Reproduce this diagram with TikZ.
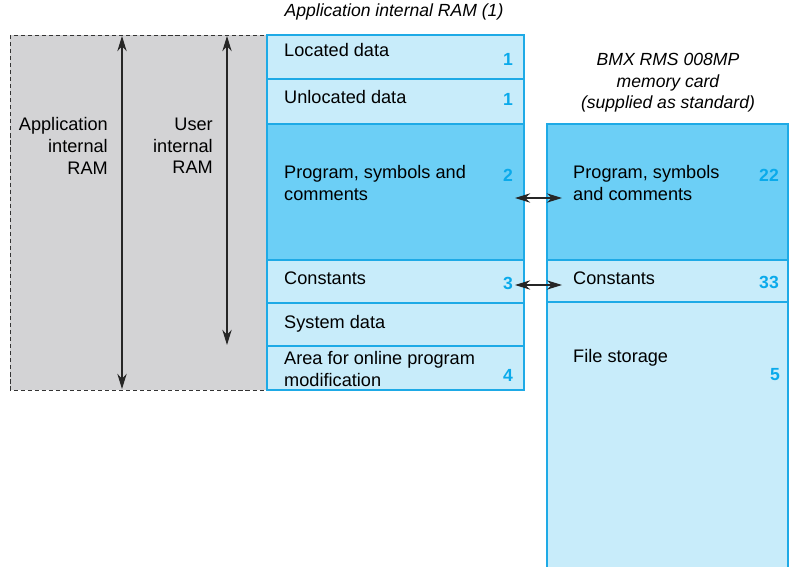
\documentclass[tikz,border=0pt]{standalone}
\usepackage{fontspec}
\setmainfont{Liberation Sans}
\usetikzlibrary{positioning,arrows.meta}

\definecolor{paleblue}{RGB}{200,236,250}
\definecolor{midblue}{RGB}{108,207,246}
\definecolor{edgeblue}{RGB}{30,170,230}
\definecolor{numblue}{RGB}{10,170,235}
\definecolor{ramgray}{RGB}{211,211,213}

\begin{document}
\begin{tikzpicture}[x=0.03cm,y=-0.03cm,font=\fontsize{15.5}{18.5}\selectfont,
    cell/.style={rectangle,draw=edgeblue,line width=0.9pt,fill=paleblue,inner sep=0pt,outer sep=0pt,minimum width=7.71cm},
    wide/.style={cell,minimum width=7.23cm},
    deep/.style={fill=midblue},
    txt/.style={anchor=west,align=left,inner sep=0pt},
    num/.style={inner sep=0pt,text=numblue,font=\fontsize{15}{18.5}\selectfont\bfseries},
    ttl/.style={inner sep=0pt,align=center,font=\fontsize{15}{18.5}\selectfont\itshape},
    span/.style={line width=1pt,draw=black!85,{Stealth[length=13pt,width=8pt]}-{Stealth[length=13pt,width=8pt]}}]
    \useasboundingbox (0,0) rectangle (794,566);
    % application RAM area
    \draw[dash pattern=on 3.5pt off 2.5pt,fill=ramgray,line width=0.8pt,draw=black!80] (10,35) rectangle (267,390);
    % internal RAM column
    \node[cell] (located) [minimum height=1.32cm] at (395.5,57) {};
    \node[cell] (unlocated) [minimum height=1.35cm, below=0pt of located] {};
    \node[cell,deep] (program) [minimum height=4.08cm, below=0pt of unlocated] {};
    \node[cell] (constants) [minimum height=1.29cm, below=0pt of program] {};
    \node[cell] (sysdata) [minimum height=1.29cm, below=0pt of constants] {};
    \node[cell] (online) [minimum height=1.32cm, below=0pt of sysdata] {};
    % memory card column
    \node[wide,deep] (cardprog) [minimum height=4.08cm] at (667.5,192) {};
    \node[wide] (cardconst) [minimum height=1.26cm, below=0pt of cardprog] {};
    \node[wide] (files) [minimum height=8.4cm, below=0pt of cardconst] {};
    % titles
    \node[ttl] (ramtitle) at (394,12) {Application internal RAM (1)};
    \node[ttl] (cardtitle) at (668,83) {BMX RMS 008MP\\memory card\\(supplied as standard)};
    \node[txt,anchor=east,align=right] (applabel) at (108,146) {Application\\internal\\RAM};
    \node[txt,anchor=east,align=right] (userlabel) at (213,146) {User\\internal\\RAM};
    % texts
    \node[txt] (tlocated) at (284,50) {Located data};
    \node[txt] (tunlocated) at (284,97) {Unlocated data};
    \node[txt] (tprogram) at (284,183) {Program, symbols and\\comments};
    \node[txt] (tconstants) at (284,278) {Constants};
    \node[txt] (tsysdata) at (284,324) {System data};
    \node[txt] (tonline) at (284,369) {Area for online program\\modification};
    \node[txt] (tcardprog) at (573,183) {Program, symbols\\and comments};
    \node[txt] (tcardconst) at (573,278) {Constants};
    \node[txt] (tfiles) at (573,358) {File storage};
    % numbers
    \node[num] (n1) at (508,59) {1};
    \node[num] (n2) at (508,99) {1};
    \node[num] (n3) at (508,175) {2};
    \node[num] (n4) at (508,283) {3};
    \node[num] (n5) at (508,375) {4};
    \node[num] (n6) at (769,175) {22};
    \node[num] (n7) at (769,282) {33};
    \node[num] (n8) at (775,375) {5};
    % arrows
    \coordinate (apptop) at (122,36);
    \coordinate (appbot) at (122,389);
    \coordinate (usertop) at (227,36);
    \coordinate (userbot) at (227,345);
    \coordinate (progl) at (515,198);
    \coordinate (progr) at (562,198);
    \coordinate (constl) at (515,285);
    \coordinate (constr) at (562,285);
    \draw[span] (apptop) -- (appbot);
    \draw[span] (usertop) -- (userbot);
    \draw[span] (progl) -- (progr);
    \draw[span] (constl) -- (constr);
\end{tikzpicture}
\end{document}
